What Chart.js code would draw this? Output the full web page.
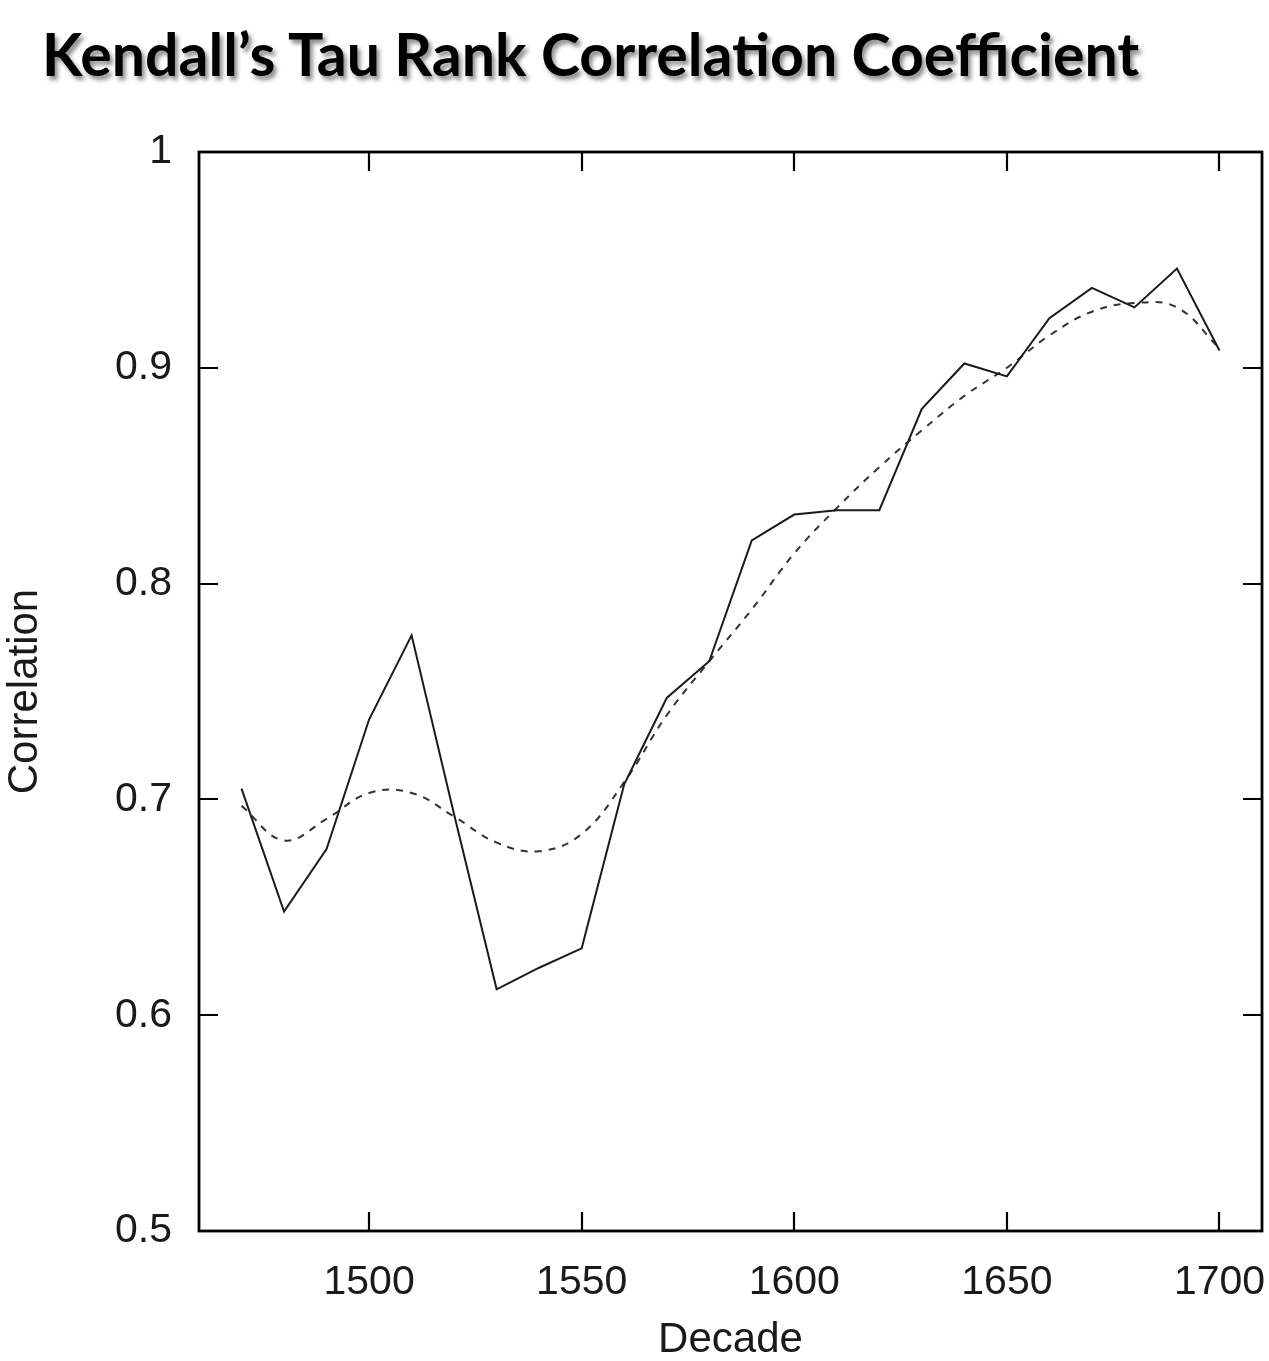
<!DOCTYPE html>
<html>
<head>
<meta charset="utf-8">
<script src="https://cdn.jsdelivr.net/npm/chart.js@4.4.1/dist/chart.umd.min.js"></script>
<style>
    html, body { margin: 0; padding: 0; background: #ffffff; overflow: hidden; }
    #wrap { position: relative; width: 1269px; height: 1361px; overflow: hidden; }
    #titulo {
        position: absolute; left: 42px; top: 24px; margin: 0;
        font-family: Lato, "Open Sans", sans-serif; font-weight: 700; font-size: 59px; line-height: 59px;
        color: #000; white-space: nowrap;
        text-shadow: 3px 4px 4px rgba(0,0,0,0.45);
    }
    canvas { position: absolute; left: 0; top: 0; }
</style>
</head>
<body>
<div id="wrap">
    <canvas id="grafica_kendall" width="1269" height="1361"></canvas>
    <h1 id="titulo">Kendall’s Tau Rank Correlation Coefficient</h1>
</div>
<script>
// decadas y valores
const decadas = [1470, 1480, 1490, 1500, 1510, 1520, 1530, 1540, 1550, 1560, 1570, 1580,
                 1590, 1600, 1610, 1620, 1630, 1640, 1650, 1660, 1670, 1680, 1690, 1700];
const tau_observado = [0.705, 0.648, 0.677, 0.737, 0.776, 0.693, 0.612, 0.622, 0.631, 0.707, 0.747, 0.764,
                       0.820, 0.832, 0.834, 0.834, 0.881, 0.902, 0.896, 0.923, 0.937, 0.928, 0.946, 0.908];
const tau_suavizado = [0.697, 0.681, 0.691, 0.703, 0.703, 0.692, 0.680, 0.676, 0.684, 0.708, 0.739, 0.764,
                       0.788, 0.814, 0.835, 0.854, 0.871, 0.887, 0.900, 0.915, 0.926, 0.930, 0.928, 0.909];
const ticks_x = [1500, 1550, 1600, 1650, 1700];
const ticks_y = [0.5, 0.6, 0.7, 0.8, 0.9, 1];

const fuente_ejes = "'Liberation Sans', Arial, Helvetica, sans-serif";

// marco negro y marcas hacia dentro en los cuatro lados
const plugin_marco = {
    id: 'marco',
    afterDraw(chart) {
        const ctx = chart.ctx, a = chart.chartArea;
        const sx = chart.scales.x, sy = chart.scales.y;
        const largo = 19;
        ctx.save();
        ctx.strokeStyle = '#000';
        ctx.lineWidth = 2.2;
        ctx.beginPath();
        ticks_x.forEach(function(v) {
            let px = Math.round(sx.getPixelForValue(v));
            ctx.moveTo(px, a.bottom); ctx.lineTo(px, a.bottom - largo);
            ctx.moveTo(px, a.top); ctx.lineTo(px, a.top + largo);
        });
        ticks_y.forEach(function(v) {
            let py = Math.round(sy.getPixelForValue(v));
            ctx.moveTo(a.left, py); ctx.lineTo(a.left + largo, py);
            ctx.moveTo(a.right, py); ctx.lineTo(a.right - largo, py);
        });
        ctx.stroke();
        ctx.lineWidth = 2.8;
        ctx.strokeRect(a.left, a.top, a.right - a.left, a.bottom - a.top);
        ctx.restore();
    }
};

new Chart(document.getElementById('grafica_kendall'), {
    type: 'line',
    data: {
        datasets: [{
            label: 'Kendall tau',
            data: decadas.map((d, i) => ({ x: d, y: tau_observado[i] })),
            borderColor: '#1a1a1a',
            borderWidth: 2,
            pointRadius: 0,
            tension: 0,
            fill: false
        }, {
            label: 'Suavizado',
            data: decadas.map((d, i) => ({ x: d, y: tau_suavizado[i] })),
            borderColor: '#333333',
            borderWidth: 2,
            borderDash: [7, 7],
            pointRadius: 0,
            tension: 0.4,
            fill: false
        }]
    },
    options: {
        responsive: false,
        animation: false,
        layout: { padding: { top: 152, right: 7, left: 0, bottom: 0 } },
        plugins: {
            legend: { display: false },
            tooltip: { enabled: false }
        },
        scales: {
            x: {
                type: 'linear',
                min: 1460,
                max: 1710,
                afterBuildTicks: function(scale) { scale.ticks = ticks_x.map(v => ({ value: v })); },
                afterFit: function(scale) { scale.height = 130; scale.paddingLeft = 0; scale.paddingRight = 0; },
                grid: { display: false, drawTicks: false },
                border: { display: false },
                ticks: { padding: 27, color: '#1a1a1a', font: { family: fuente_ejes, size: 41 }, maxRotation: 0, callback: v => String(v) },
                title: { display: true, text: 'Decade', color: '#1a1a1a', font: { family: fuente_ejes, size: 42, lineHeight: 1.0 }, padding: { top: 0, bottom: 0 } }
            },
            y: {
                min: 0.5,
                max: 1,
                afterBuildTicks: function(scale) { scale.ticks = ticks_y.map(v => ({ value: v })); },
                afterFit: function(scale) { scale.width = 199; scale.paddingTop = 0; scale.paddingBottom = 0; },
                grid: { display: false, drawTicks: false },
                border: { display: false },
                ticks: { padding: 27, color: '#1a1a1a', font: { family: fuente_ejes, size: 41 }, callback: v => String(Math.round(v * 10) / 10) },
                title: { display: true, text: 'Correlation', color: '#1a1a1a', font: { family: fuente_ejes, size: 42 }, padding: { top: 0, bottom: 0 } }
            }
        }
    },
    plugins: [plugin_marco]
});
</script>
</body>
</html>
